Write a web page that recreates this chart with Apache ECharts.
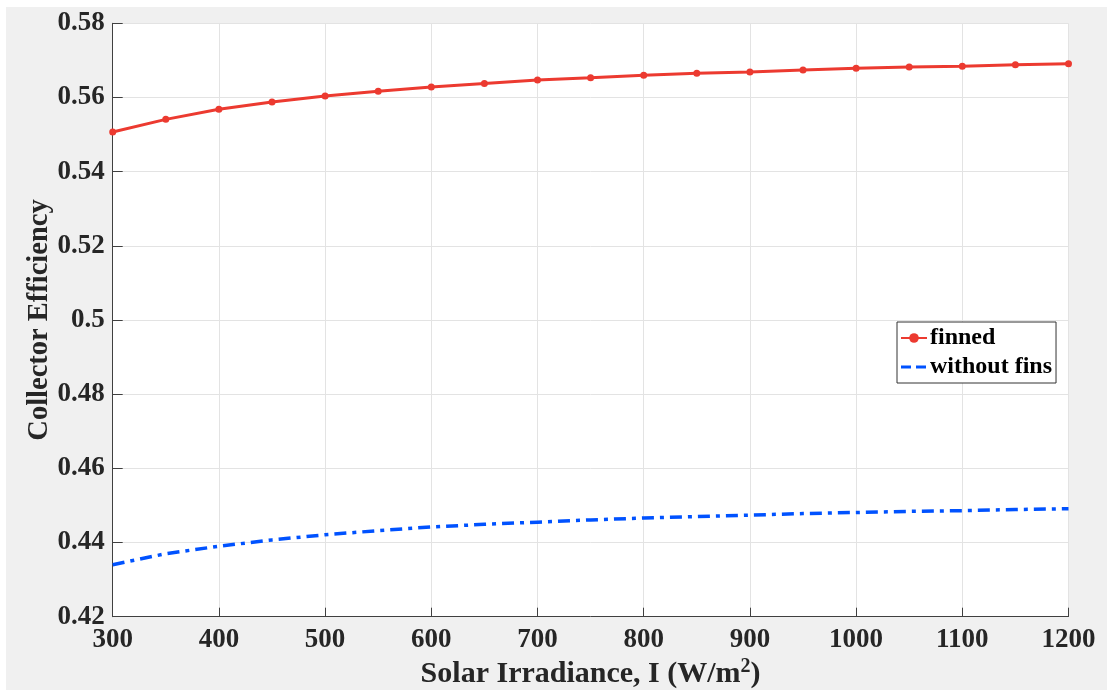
<!DOCTYPE html>
<html>
<head>
<meta charset="utf-8">
<script src="https://cdn.jsdelivr.net/npm/echarts@6/dist/echarts.min.js"></script>
<style>
  html, body { margin: 0; padding: 0; background: #ffffff; }
  #chart { position: absolute; left: 6px; top: 7px; width: 1101px; height: 683px; background: #f0f0f0; }
</style>
</head>
<body>
<div id="chart"></div>
<script>
// Solar irradiance levels (W/m^2)
const irradiance = [300, 350, 400, 450, 500, 550, 600, 650, 700, 750, 800, 850, 900, 950, 1000, 1050, 1100, 1150, 1200];
// Collector efficiency with fins
const finned = [0.5507, 0.5541, 0.5568, 0.5588, 0.5604, 0.5617, 0.5628, 0.5638, 0.5647, 0.5653, 0.5660, 0.5665, 0.5669, 0.5674, 0.5679, 0.5682, 0.5684, 0.5688, 0.5691];
// Collector efficiency without fins
const withoutFins = [0.4340, 0.4370, 0.4390, 0.4407, 0.4421, 0.4432, 0.4442, 0.4449, 0.4455, 0.4461, 0.4466, 0.4470, 0.4474, 0.4478, 0.4481, 0.4484, 0.4486, 0.4489, 0.4491];

const seriesNames = ['finned', 'without fins'];
const xTitle = 'Solar Irradiance, I (W/m';
const yTitle = 'Collector Efficiency';

const FONT = '"Liberation Serif", "Times New Roman", serif';
const INK = '#262626';
const AXIS = '#404040';
const RED = '#ec3a30';
const BLUE = '#0052ff';

// two short dashes for the dash-dot legend entry (corner specks keep the 26x12 box)
const dashIcon = 'path://M0,0L0.05,0L0.05,0.05Z M25.95,11.95L26,11.95L26,12Z M0,4.5h10v3h-10z M15,4.5h10v3h-10z';

const chart = echarts.init(document.getElementById('chart'), null, { renderer: 'canvas' });

chart.setOption({
  backgroundColor: 'transparent',
  animation: false,
  grid: {
    left: 106.7, top: 16.3, right: 38.5, bottom: 73.3,
    outerBoundsMode: 'none',
    containLabel: false,
    show: true, backgroundColor: '#ffffff', borderWidth: 0
  },
  legend: {
    data: [
      { name: seriesNames[0] },
      { name: seriesNames[1], icon: dashIcon }
    ],
    orient: 'vertical',
    left: 891, top: 315,
    backgroundColor: '#ffffff',
    borderColor: '#333333', borderWidth: 1, borderRadius: 0,
    padding: [3, 4, 3, 3],
    itemWidth: 26, itemHeight: 12, itemGap: 3,
    textStyle: { fontFamily: FONT, fontWeight: 'bold', fontSize: 24, color: '#000000', lineHeight: 26, padding: [0, 0, 0, -2] }
  },
  xAxis: {
    type: 'value',
    min: 300, max: 1200, interval: 100,
    name: '{a|' + xTitle + '}{s|2}{a|)}',
    nameLocation: 'middle',
    nameGap: 39,
    nameMoveOverlap: false,
    nameTextStyle: {
      rich: {
        a: { fontFamily: FONT, fontWeight: 'bold', fontSize: 30, color: INK, lineHeight: 34, verticalAlign: 'bottom' },
        s: { fontFamily: FONT, fontWeight: 'bold', fontSize: 20, color: INK, lineHeight: 34, verticalAlign: 'bottom', padding: [0, 0, 13, 0] }
      }
    },
    axisLine: { show: true, onZero: false, lineStyle: { color: AXIS, width: 1 } },
    axisTick: { show: true, inside: true, length: 9, lineStyle: { color: AXIS, width: 1 } },
    axisLabel: {
      fontFamily: FONT, fontWeight: 'bold', fontSize: 27, color: INK, margin: 10,
      formatter: v => String(v)
    },
    splitLine: { show: true, lineStyle: { color: '#e3e3e3', width: 1 } }
  },
  yAxis: {
    type: 'value',
    min: 0.42, max: 0.58, interval: 0.02,
    name: yTitle,
    nameLocation: 'middle',
    nameGap: 59,
    nameMoveOverlap: false,
    nameTextStyle: { fontFamily: FONT, fontWeight: 'bold', fontSize: 28.5, color: INK },
    axisLine: { show: true, onZero: false, lineStyle: { color: AXIS, width: 1 } },
    axisTick: { show: true, inside: true, length: 10, lineStyle: { color: AXIS, width: 1 } },
    axisLabel: {
      fontFamily: FONT, fontWeight: 'bold', fontSize: 27, color: INK, margin: 8,
      formatter: v => String(parseFloat(v.toFixed(2)))
    },
    splitLine: { show: true, lineStyle: { color: '#e3e3e3', width: 1 } }
  },
  series: [
    {
      name: seriesNames[0],
      type: 'line',
      data: irradiance.map((x, i) => [x, finned[i]]),
      color: RED,
      lineStyle: { width: 3, color: RED },
      symbol: 'circle', symbolSize: 7,
      itemStyle: { color: RED },
      showSymbol: true
    },
    {
      name: seriesNames[1],
      type: 'line',
      data: irradiance.map((x, i) => [x, withoutFins[i]]),
      color: BLUE,
      lineStyle: { width: 3.5, color: BLUE, type: [12, 6, 4, 6] },
      symbol: 'none',
      itemStyle: { color: BLUE }
    }
  ]
});
</script>
</body>
</html>
